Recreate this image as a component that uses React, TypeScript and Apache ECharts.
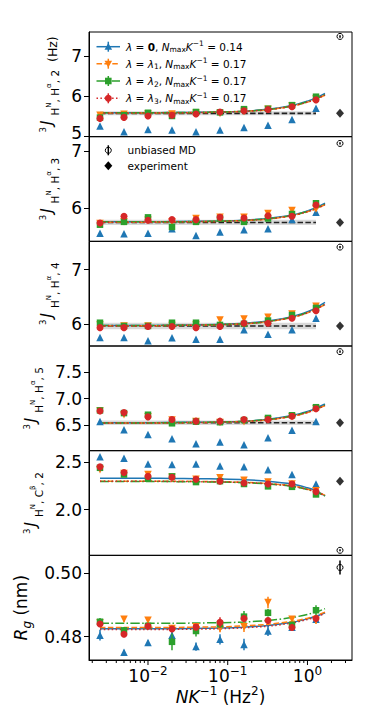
import React, { useEffect, useRef } from 'react';
import * as echarts from 'echarts';

const FONT = 'DejaVu Sans';
const COLORS = ['#1f77b4', '#ff7f0e', '#2ca02c', '#d62728'];

// shared x values
const NK = [0.0025, 0.005, 0.01, 0.02, 0.04, 0.08, 0.16, 0.32, 0.64, 1.28];
const FIT_X = [0.0025, 0.005, 0.01, 0.02, 0.04, 0.08, 0.16, 0.32, 0.64, 1.0, 1.28, 1.66];
const EXP_X = 2.56;
const X_MIN = 0.00182;
const X_MAX = 3.62;
const X_MAJOR_TICKS = [0.01, 0.1, 1];
const X_MINOR_TICKS = [0.002, 0.003, 0.004, 0.005, 0.006, 0.007, 0.008, 0.009,
  0.02, 0.03, 0.04, 0.05, 0.06, 0.07, 0.08, 0.09,
  0.2, 0.3, 0.4, 0.5, 0.6, 0.7, 0.8, 0.9, 2, 3];

// Panel 1: 3J(HN,Ha,2)
const J2_L0 = [5.26, 5.12, 5.175, 5.16, 5.12, 5.16, 5.225, 5.28, 5.425, 5.70];
const J2_L1 = [5.53, 5.55, 5.56, 5.56, 5.58, 5.57, 5.62, 5.68, 5.76, 5.93];
const J2_L2 = [5.47, 5.53, 5.59, 5.51, 5.61, 5.60, 5.68, 5.69, 5.78, 5.99];
const J2_L3 = [5.45, 5.475, 5.51, 5.53, 5.56, 5.61, 5.64, 5.67, 5.74, 5.91];
const J2_F0 = [5.59, 5.59, 5.59, 5.595, 5.60, 5.61, 5.63, 5.675, 5.77, 5.88, 5.96, 6.07];
const J2_F1 = [5.585, 5.585, 5.585, 5.59, 5.595, 5.605, 5.625, 5.665, 5.755, 5.855, 5.93, 6.03];
const J2_F2 = [5.59, 5.59, 5.59, 5.595, 5.60, 5.61, 5.63, 5.67, 5.76, 5.865, 5.94, 6.04];
const J2_F3 = [5.585, 5.585, 5.585, 5.59, 5.595, 5.605, 5.625, 5.665, 5.755, 5.855, 5.93, 6.03];
const J2_EXP = 5.575;
const J2_BAND = 0.05;
const J2_UB = [7.49, 0.03];

// Panel 2: 3J(HN,Ha,3)
const J3_L0 = [5.55, 5.54, 5.55, 5.63, 5.51, 5.57, 5.61, 5.63, 5.79, 5.92];
const J3_L1 = [5.72, 5.75, 5.78, 5.75, 5.81, 5.83, 5.83, 5.90, 5.95, 5.98];
const J3_L2 = [5.70, 5.75, 5.83, 5.66, 5.75, 5.81, 5.75, 5.81, 5.89, 6.08];
const J3_L3 = [5.73, 5.85, 5.78, 5.79, 5.79, 5.83, 5.82, 5.86, 5.85, 6.05];
const J3_F0 = [5.75, 5.75, 5.75, 5.755, 5.76, 5.765, 5.78, 5.81, 5.87, 5.945, 6.0, 6.08];
const J3_F1 = [5.745, 5.745, 5.745, 5.75, 5.755, 5.76, 5.775, 5.80, 5.86, 5.93, 5.98, 6.055];
const J3_F2 = [5.75, 5.75, 5.75, 5.752, 5.757, 5.762, 5.777, 5.805, 5.865, 5.935, 5.99, 6.065];
const J3_F3 = [5.745, 5.745, 5.745, 5.75, 5.755, 5.76, 5.775, 5.80, 5.86, 5.93, 5.98, 6.055];
const J3_EXP = 5.74;
const J3_BAND = 0.047;
const J3_UB = [7.14, 0.02];

// Panel 3: 3J(HN,Ha,4)
const J4_L0 = [5.76, 5.76, 5.70, 5.757, 5.73, 5.73, 5.90, 5.82, 5.90, 6.11];
const J4_L1 = [5.99, 5.97, 5.97, 5.98, 5.99, 6.08, 6.10, 6.13, 6.19, 6.33];
const J4_L2 = [6.03, 5.97, 5.97, 6.03, 6.03, 5.99, 6.01, 6.07, 6.17, 6.30];
const J4_L3 = [5.94, 5.94, 5.96, 5.96, 5.94, 5.96, 6.02, 6.02, 6.11, 6.25];
const J4_F0 = [5.98, 5.98, 5.98, 5.985, 5.99, 6.0, 6.02, 6.06, 6.14, 6.23, 6.30, 6.40];
const J4_F1 = [5.975, 5.975, 5.975, 5.98, 5.985, 5.995, 6.01, 6.05, 6.125, 6.21, 6.28, 6.36];
const J4_F2 = [5.98, 5.98, 5.98, 5.983, 5.988, 5.997, 6.013, 6.053, 6.13, 6.215, 6.285, 6.37];
const J4_F3 = [5.975, 5.975, 5.975, 5.98, 5.985, 5.995, 6.01, 6.05, 6.125, 6.21, 6.28, 6.36];
const J4_EXP = 5.97;
const J4_BAND = 0.06;
const J4_UB = [7.41, 0.02];

// Panel 4: 3J(HN,Ha,5)
const J5_L0 = [6.575, 6.42, 6.33, 6.25, 6.16, 6.19, 6.14, 6.27, 6.41, 6.575];
const J5_L1 = [6.77, 6.70, 6.66, 6.60, 6.575, 6.555, 6.57, 6.60, 6.66, 6.81];
const J5_L2 = [6.78, 6.73, 6.70, 6.54, 6.57, 6.56, 6.60, 6.64, 6.69, 6.84];
const J5_L3 = [6.77, 6.74, 6.66, 6.61, 6.58, 6.58, 6.61, 6.61, 6.67, 6.81];
const J5_F0 = [6.55, 6.55, 6.55, 6.555, 6.56, 6.565, 6.58, 6.615, 6.685, 6.76, 6.82, 6.90];
const J5_F1 = [6.545, 6.545, 6.545, 6.55, 6.555, 6.56, 6.575, 6.605, 6.67, 6.74, 6.80, 6.87];
const J5_F2 = [6.548, 6.548, 6.548, 6.552, 6.557, 6.562, 6.577, 6.61, 6.675, 6.75, 6.81, 6.88];
const J5_F3 = [6.545, 6.545, 6.545, 6.55, 6.555, 6.56, 6.575, 6.605, 6.67, 6.74, 6.80, 6.87];
const J5_EXP = 6.55;
const J5_BAND = 0.04;
const J5_UB = [7.875, 0.02];

// Panel 5: 3J(HN,Cb,2)
const JC_L0 = [2.555, 2.54, 2.48, 2.475, 2.48, 2.46, 2.45, 2.42, 2.37, 2.27];
const JC_L1 = [2.42, 2.38, 2.37, 2.34, 2.32, 2.335, 2.31, 2.29, 2.27, 2.20];
const JC_L2 = [2.44, 2.37, 2.325, 2.35, 2.29, 2.30, 2.27, 2.245, 2.24, 2.16];
const JC_L3 = [2.45, 2.39, 2.35, 2.34, 2.32, 2.30, 2.28, 2.27, 2.27, 2.19];
const JC_F0 = [2.33, 2.33, 2.33, 2.328, 2.326, 2.322, 2.315, 2.30, 2.27, 2.23, 2.20, 2.145];
const JC_F1 = [2.30, 2.30, 2.30, 2.299, 2.297, 2.294, 2.288, 2.275, 2.25, 2.215, 2.19, 2.15];
const JC_F2 = [2.296, 2.296, 2.296, 2.295, 2.293, 2.29, 2.284, 2.271, 2.246, 2.212, 2.186, 2.145];
const JC_F3 = [2.298, 2.298, 2.298, 2.297, 2.295, 2.292, 2.286, 2.273, 2.248, 2.213, 2.188, 2.148];
const JC_EXP = 2.30;
const JC_UB = [1.573, 0.01];

// Panel 6: Rg (nm)
const RG_L0 = [0.4805, 0.4751, 0.4782, 0.4805, 0.4769, 0.4792, 0.4776, 0.4818, 0.4830, 0.4855];
const RG_L1 = [0.4844, 0.4855, 0.4852, 0.4826, 0.4831, 0.4826, 0.4831, 0.4907, 0.4855, 0.4852];
const RG_L2 = [0.4847, 0.4820, 0.4834, 0.4784, 0.4818, 0.4839, 0.4863, 0.4875, 0.4837, 0.4883];
const RG_L3 = [0.4840, 0.48075, 0.4833, 0.4824, 0.4830, 0.4845, 0.4857, 0.4851, 0.4829, 0.4857];
const RG_E0 = [0.0017, 0.0008, 0.0006, 0.0010, 0.0013, 0.0016, 0.0018, 0.0016, 0.0010, 0.0010];
const RG_E1 = [0.0010, 0.0008, 0.0008, 0.0010, 0.0010, 0.0012, 0.0016, 0.0018, 0.0010, 0.0012];
const RG_E2 = [0.0012, 0.0010, 0.0008, 0.0026, 0.0017, 0.0010, 0.0018, 0.0012, 0.0010, 0.0016];
const RG_E3 = [0.0008, 0.0008, 0.0008, 0.0008, 0.0008, 0.0016, 0.0010, 0.0010, 0.0010, 0.0008];
const RG_F0 = [0.4825, 0.4825, 0.4825, 0.4825, 0.4826, 0.4827, 0.4830, 0.4835, 0.4845, 0.4856, 0.4864, 0.4875];
const RG_F1 = [0.4829, 0.4829, 0.4829, 0.4829, 0.4830, 0.4831, 0.4834, 0.4839, 0.4848, 0.4858, 0.4866, 0.4877];
const RG_F2 = [0.4842, 0.4842, 0.4842, 0.4842, 0.4843, 0.4844, 0.4846, 0.4851, 0.4860, 0.4870, 0.4877, 0.4888];
const RG_F3 = [0.4823, 0.4823, 0.4823, 0.4823, 0.4824, 0.4825, 0.4828, 0.4833, 0.4843, 0.4854, 0.4862, 0.4873];
const RG_UB = [0.5017, 0.0022];

// legend labels
const LEGEND_LAMBDA = [
  '{it|λ} = {b|0}, {it|N}{sub|max}{it|K}{sup|−1} = 0.14',
  '{it|λ} = {it|λ}{sub|1}, {it|N}{sub|max}{it|K}{sup|−1} = 0.17',
  '{it|λ} = {it|λ}{sub|2}, {it|N}{sub|max}{it|K}{sup|−1} = 0.17',
  '{it|λ} = {it|λ}{sub|3}, {it|N}{sub|max}{it|K}{sup|−1} = 0.17',
];
const LEGEND_REF = ['unbiased MD', 'experiment'];

const SYMBOLS = ['triangle', 'triangle', 'rect', 'circle'];
const SYMBOL_ROT = [0, 180, 0, 0];
const SYMBOL_SIZE = [7.5, 7.5, 6.5, 7];
const DASHES: any[] = ['solid', [5.5, 2.4], [9, 2.4, 1.5, 2.4], [1.5, 2.4]];

const J_RICH = {
  m: { fontSize: 12.5, lineHeight: 22, verticalAlign: 'bottom', padding: [0, 0, 1, 0], fontFamily: FONT, color: '#000' },
  it: { fontSize: 15, lineHeight: 22, verticalAlign: 'top', padding: [1, 5, 0, 2], fontStyle: 'italic', fontFamily: FONT, color: '#000' },
  pre: { fontSize: 8.5, lineHeight: 8.5, verticalAlign: 'top', fontFamily: FONT, color: '#000' },
  s: { fontSize: 10.5, lineHeight: 10.5, verticalAlign: 'bottom', fontFamily: FONT, color: '#000' },
  ss: { fontSize: 7, lineHeight: 7, verticalAlign: 'top', padding: [7, 0, 0, 0], fontFamily: FONT, color: '#000' },
};
const RG_RICH = {
  m: { fontSize: 17, lineHeight: 24, fontFamily: FONT, color: '#000' },
  it: { fontSize: 17, lineHeight: 24, fontStyle: 'italic', fontFamily: FONT, color: '#000' },
  s: { fontSize: 12, lineHeight: 12, verticalAlign: 'bottom', fontStyle: 'italic', fontFamily: FONT, color: '#000' },
};

const PANELS = [
  { name: '{pre|3}{it|J}{s|H}{ss|N}{s|, H}{ss|α}{s|, 2}{m|  (Hz)}', rich: J_RICH, gap: 13, min: 4.995, max: 7.6, ticks: [5, 6, 7], dec: 0,
    pts: [J2_L0, J2_L1, J2_L2, J2_L3], fits: [J2_F0, J2_F1, J2_F2, J2_F3], exp: J2_EXP, band: J2_BAND, ub: J2_UB, errs: null as any },
  { name: '{pre|3}{it|J}{s|H}{ss|N}{s|, H}{ss|α}{s|, 3}', rich: J_RICH, gap: 13, min: 5.405, max: 7.26, ticks: [6, 7], dec: 0,
    pts: [J3_L0, J3_L1, J3_L2, J3_L3], fits: [J3_F0, J3_F1, J3_F2, J3_F3], exp: J3_EXP, band: J3_BAND, ub: J3_UB, errs: null },
  { name: '{pre|3}{it|J}{s|H}{ss|N}{s|, H}{ss|α}{s|, 4}', rich: J_RICH, gap: 13, min: 5.605, max: 7.515, ticks: [6, 7], dec: 0,
    pts: [J4_L0, J4_L1, J4_L2, J4_L3], fits: [J4_F0, J4_F1, J4_F2, J4_F3], exp: J4_EXP, band: J4_BAND, ub: J4_UB, errs: null },
  { name: '{pre|3}{it|J}{s|H}{ss|N}{s|, H}{ss|α}{s|, 5}', rich: J_RICH, gap: 22, min: 6.03, max: 7.98, ticks: [6.5, 7.0, 7.5], dec: 1,
    pts: [J5_L0, J5_L1, J5_L2, J5_L3], fits: [J5_F0, J5_F1, J5_F2, J5_F3], exp: J5_EXP, band: J5_BAND, ub: J5_UB, errs: null },
  { name: '{pre|3}{it|J}{s|H}{ss|N}{s|, C}{ss|β}{s|, 2}', rich: J_RICH, gap: 23, min: 1.52, max: 2.62, ticks: [2.0, 2.5], dec: 1,
    pts: [JC_L0, JC_L1, JC_L2, JC_L3], fits: [JC_F0, JC_F1, JC_F2, JC_F3], exp: JC_EXP, band: null as any, ub: JC_UB, errs: null },
  { name: '{it|R}{s|g}{m| (nm)}', rich: RG_RICH, gap: 38, min: 0.4727, max: 0.5055, ticks: [0.48, 0.50], dec: 2,
    pts: [RG_L0, RG_L1, RG_L2, RG_L3], fits: [RG_F0, RG_F1, RG_F2, RG_F3], exp: null as any, band: null as any, ub: RG_UB,
    errs: [RG_E0, RG_E1, RG_E2, RG_E3] },
];

const GRID_LEFT = 89;
const GRID_RIGHT = 22;
const GRID_TOP = 32;
const PANEL_H = 104.67;

function markerShape(k: number, cx: number, cy: number, color: string): any {
  const s = 3.8;
  if (k === 0) return { type: 'polygon', shape: { points: [[cx, cy - s], [cx + s, cy + s * 0.8], [cx - s, cy + s * 0.8]] }, style: { fill: color } };
  if (k === 1) return { type: 'polygon', shape: { points: [[cx, cy + s], [cx + s, cy - s * 0.8], [cx - s, cy - s * 0.8]] }, style: { fill: color } };
  if (k === 2) return { type: 'rect', shape: { x: cx - 3.3, y: cy - 3.3, width: 6.6, height: 6.6 }, style: { fill: color } };
  return { type: 'circle', shape: { cx, cy, r: 3.5 }, style: { fill: color } };
}

function buildOption() {
  const grids: any[] = [];
  const xAxes: any[] = [];
  const yAxes: any[] = [];
  const series: any[] = [];

  PANELS.forEach((p, i) => {
    grids.push({ left: GRID_LEFT, right: GRID_RIGHT, top: GRID_TOP + i * PANEL_H, height: PANEL_H,
      show: true, borderColor: '#000', borderWidth: 1, backgroundColor: 'transparent' });
    const last = i === PANELS.length - 1;
    xAxes.push({
      gridIndex: i, type: 'log', logBase: 10, min: X_MIN, max: X_MAX,
      axisLine: { show: last, lineStyle: { color: '#000', width: 1 } },
      axisTick: { show: false },
      splitLine: { show: false },
      axisLabel: last ? {
        show: true, margin: 5, color: '#000', fontFamily: FONT, fontSize: 17,
        formatter: (v: number) => {
          const e = Math.log10(v);
          if (Math.abs(e - Math.round(e)) > 1e-6) return '';
          const r = Math.round(e);
          return '{b|10}{s|' + (r < 0 ? '−' + (-r) : String(r)) + '}';
        },
        rich: {
          b: { fontSize: 17, lineHeight: 22, fontFamily: FONT, color: '#000' },
          s: { fontSize: 12, lineHeight: 12, verticalAlign: 'top', fontFamily: FONT, color: '#000' },
        },
      } : { show: false },
      name: last ? '{it|NK}{sup|−1}{m| (Hz}{sup|2}{m|)}' : '',
      nameLocation: 'middle', nameGap: 23,
      nameTextStyle: {
        color: '#000', fontFamily: FONT, fontSize: 17,
        rich: {
          it: { fontSize: 17, lineHeight: 24, fontStyle: 'italic', fontFamily: FONT, color: '#000' },
          m: { fontSize: 17, lineHeight: 24, fontFamily: FONT, color: '#000' },
          sup: { fontSize: 12, lineHeight: 12, verticalAlign: 'top', fontFamily: FONT, color: '#000' },
        },
      },
    });
    yAxes.push({
      gridIndex: i, type: 'value', min: p.min, max: p.max,
      axisLine: { show: true, lineStyle: { color: '#000', width: 1 } },
      axisTick: { show: true, inside: false, length: 5, lineStyle: { color: '#000', width: 1 }, customValues: p.ticks },
      axisLabel: { show: true, customValues: p.ticks, margin: 7, color: '#000', fontFamily: FONT, fontSize: 17,
        formatter: (v: number) => {
          const t = v.toFixed(p.dec);
          // a label sitting on the panel's bottom edge is lifted a little, as in the reference
          return (v - p.min) / (p.max - p.min) < 0.05 ? '{lo|' + t + '}' : '{n|' + t + '}';
        },
        rich: {
          n: { fontSize: 17, fontFamily: FONT, color: '#000' },
          lo: { fontSize: 17, fontFamily: FONT, color: '#000', padding: [0, 0, 7, 0] },
        },
      },
      splitLine: { show: false },
      name: p.name, nameLocation: 'middle', nameGap: p.gap, nameRotate: 90,
      nameTextStyle: { color: '#000', fontFamily: FONT, fontSize: 14, rich: p.rich },
    });

    // experiment band + level
    if (p.band != null) {
      series.push({
        type: 'custom', xAxisIndex: i, yAxisIndex: i, z: 1, silent: true,
        data: [[NK[0], NK[NK.length - 1], p.exp - p.band, p.exp + p.band]],
        encode: { x: [0, 1], y: [2, 3] },
        renderItem: (params: any, api: any) => {
          const a = api.coord([api.value(0), api.value(3)]);
          const b = api.coord([api.value(1), api.value(2)]);
          return { type: 'rect', shape: { x: a[0], y: a[1], width: b[0] - a[0], height: b[1] - a[1] },
            style: { fill: 'rgba(160,160,160,0.4)' } };
        },
      });
      series.push({
        type: 'line', xAxisIndex: i, yAxisIndex: i, z: 2, symbol: 'none', silent: true,
        data: [[NK[0], p.exp], [NK[NK.length - 1], p.exp]],
        lineStyle: { color: '#222', width: 1.6, type: [5.5, 2.4] },
      });
    }
    // fits
    p.fits.forEach((f: number[], k: number) => {
      series.push({
        type: 'line', xAxisIndex: i, yAxisIndex: i, z: 3 + k * 0.01, symbol: 'none', smooth: 0.3, silent: true,
        data: FIT_X.map((x, j) => [x, f[j]]),
        lineStyle: { color: COLORS[k], width: 1.5, type: DASHES[k] },
      });
    });
    // points
    p.pts.forEach((vals: number[], k: number) => {
      if (p.errs) {
        const e = p.errs[k];
        series.push({
          type: 'custom', xAxisIndex: i, yAxisIndex: i, z: 5 + k * 2, silent: true,
          data: NK.map((x, j) => [x, vals[j], e[j]]),
          encode: { x: 0, y: 1 },
          renderItem: (params: any, api: any) => {
            const x = api.value(0), y = api.value(1), er = api.value(2);
            const a = api.coord([x, y - er]);
            const b = api.coord([x, y + er]);
            return { type: 'line', shape: { x1: a[0], y1: a[1], x2: b[0], y2: b[1] },
              style: { stroke: COLORS[k], lineWidth: 1.5 } };
          },
        });
      }
      series.push({
        type: 'scatter', xAxisIndex: i, yAxisIndex: i, z: 6 + k * 2, silent: true,
        symbol: SYMBOLS[k], symbolRotate: SYMBOL_ROT[k], symbolSize: SYMBOL_SIZE[k],
        data: NK.map((x, j) => [x, vals[j]]),
        itemStyle: { color: COLORS[k], opacity: 1 },
      });
    });
    // experiment marker
    if (p.exp != null) {
      series.push({
        type: 'scatter', xAxisIndex: i, yAxisIndex: i, z: 20, silent: true,
        symbol: 'diamond', symbolSize: [8, 9],
        data: [[EXP_X, p.exp]],
        itemStyle: { color: '#000' },
      });
    }
    // unbiased MD
    series.push({
      type: 'custom', xAxisIndex: i, yAxisIndex: i, z: 20, silent: true,
      data: [[EXP_X, p.ub[0], p.ub[1]]],
      encode: { x: 0, y: 1 },
      renderItem: (params: any, api: any) => {
        const x = api.value(0), y = api.value(1), er = api.value(2);
        const c = api.coord([x, y]);
        const a = api.coord([x, y - er]);
        const b = api.coord([x, y + er]);
        return { type: 'group', children: [
          { type: 'line', shape: { x1: a[0], y1: a[1], x2: b[0], y2: b[1] }, style: { stroke: '#000', lineWidth: 1.5 } },
          { type: 'circle', shape: { cx: c[0], cy: c[1], r: 3 }, style: { fill: 'none', stroke: '#000', lineWidth: 1 } },
        ] };
      },
    });
    // x ticks (placed through the log scale) on the bottom panel
    if (last) {
      const mk = (vals: number[], len: number) => ({
        type: 'custom', xAxisIndex: i, yAxisIndex: i, z: 30, silent: true, clip: false,
        data: vals.map((v) => [v, p.min]),
        encode: { x: 0, y: 1 },
        renderItem: (params: any, api: any) => {
          const c = api.coord([api.value(0), api.value(1)]);
          return { type: 'line', shape: { x1: c[0], y1: c[1], x2: c[0], y2: c[1] + len }, style: { stroke: '#000', lineWidth: 1 } };
        },
      });
      series.push(mk(X_MAJOR_TICKS, 5));
      series.push(mk(X_MINOR_TICKS, 3));
    }
  });

  // legend graphic
  const legendChildren: any[] = [];
  const lRich = {
    it: { fontStyle: 'italic', fontSize: 10.5, lineHeight: 14, fontFamily: FONT, color: '#000' },
    b: { fontWeight: 'bold', fontSize: 10.5, lineHeight: 14, fontFamily: FONT, color: '#000' },
    sub: { fontSize: 7.5, lineHeight: 7.5, verticalAlign: 'bottom', fontFamily: FONT, color: '#000' },
    sup: { fontSize: 7.5, lineHeight: 7.5, verticalAlign: 'top', fontFamily: FONT, color: '#000' },
  };
  const LY = [46.7, 63.7, 81, 98.3];
  LEGEND_LAMBDA.forEach((txt, k) => {
    const y = LY[k];
    legendChildren.push({ type: 'line', shape: { x1: 96.5, y1: y, x2: 120, y2: y },
      style: { stroke: COLORS[k], lineWidth: 1.5, lineDash: DASHES[k] === 'solid' ? null : DASHES[k] } });
    legendChildren.push({ type: 'line', shape: { x1: 108.3, y1: y - 5, x2: 108.3, y2: y + 5 }, style: { stroke: COLORS[k], lineWidth: 1.5 } });
    legendChildren.push(markerShape(k, 108.3, y, COLORS[k]));
    legendChildren.push({ type: 'text', x: 126, y,
      style: { text: txt, rich: lRich, fontSize: 10.5, fontFamily: FONT, fill: '#000',
        align: 'left', verticalAlign: 'middle', textAlign: 'left', textVerticalAlign: 'middle' } });
  });
  const LY2 = [150.3, 165.7];
  legendChildren.push({ type: 'line', shape: { x1: 108.3, y1: LY2[0] - 5, x2: 108.3, y2: LY2[0] + 5 }, style: { stroke: '#000', lineWidth: 1.5 } });
  legendChildren.push({ type: 'circle', shape: { cx: 108.3, cy: LY2[0], r: 3 }, style: { fill: 'none', stroke: '#000', lineWidth: 1 } });
  legendChildren.push({ type: 'polygon', shape: { points: [[108.3, LY2[1] - 4.5], [112.3, LY2[1]], [108.3, LY2[1] + 4.5], [104.3, LY2[1]]] }, style: { fill: '#000' } });
  LEGEND_REF.forEach((txt, k) => {
    legendChildren.push({ type: 'text', x: 127.5, y: LY2[k],
      style: { text: txt, fontSize: 10.5, fontFamily: FONT, fill: '#000',
        align: 'left', verticalAlign: 'middle', textAlign: 'left', textVerticalAlign: 'middle' } });
  });

  return {
    animation: false,
    backgroundColor: '#fff',
    grid: grids,
    xAxis: xAxes,
    yAxis: yAxes,
    series,
    graphic: [{ type: 'group', z: 100, children: legendChildren }],
  };
}

export default function App() {
  const ref = useRef<HTMLDivElement>(null);
  useEffect(() => {
    if (!ref.current) return;
    const chart = echarts.init(ref.current, null, { renderer: 'svg' });
    chart.setOption(buildOption() as any);
    return () => chart.dispose();
  }, []);
  return <div ref={ref} style={{ position: 'absolute', left: 0, top: 0, width: 374, height: 728 }} />;
}
